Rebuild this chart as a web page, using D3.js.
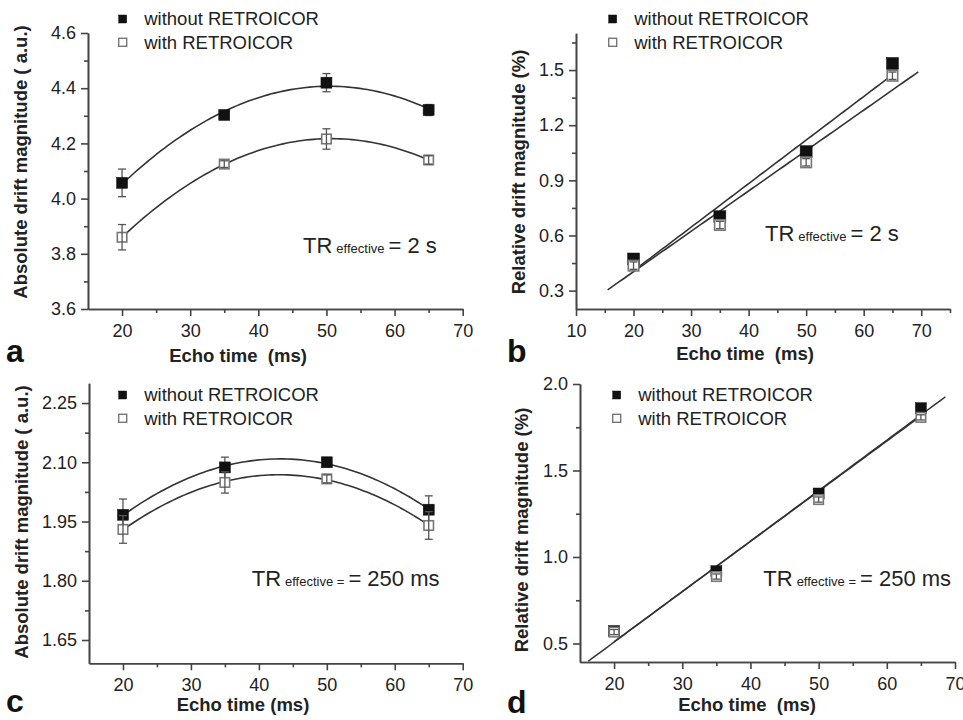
<!DOCTYPE html>
<html>
<head>
<meta charset="utf-8">
<script src="https://cdn.jsdelivr.net/npm/d3@7/dist/d3.min.js"></script>
<style>
  html, body { margin: 0; padding: 0; background: #fff; }
  svg { display: block; font-family: "Liberation Sans", Arial, Helvetica, sans-serif; }
</style>
</head>
<body>
<svg id="chart" width="963" height="720"></svg>
<script>
// ---------------- DATA ----------------
const echoTimes = [20, 35, 50, 65];
const seriesNames = ["without RETROICOR", "with RETROICOR"];

// a: absolute drift, TR effective = 2 s
const absTR2Without = [4.057, 4.303, 4.420, 4.321];
const absTR2WithoutErr = [0.050, 0.012, 0.033, 0.020];
const absTR2With = [3.860, 4.125, 4.216, 4.140];
const absTR2WithErr = [0.046, 0.012, 0.037, 0.015];

// b: relative drift, TR effective = 2 s
const relTR2Without = [0.472, 0.702, 1.056, 1.536];
const relTR2WithoutErr = [0.02, 0.02, 0.02, 0.02];
const relTR2With = [0.436, 0.657, 0.998, 1.469];
const relTR2WithErr = [0.02, 0.02, 0.02, 0.02];
// linear fit lines: [intercept, slope]
const relTR2WithoutFit = [-0.066, 0.0237];
const relTR2WithFit = [-0.0365, 0.02197];

// c: absolute drift, TR effective = 250 ms
const absTR250Without = [1.967, 2.087, 2.100, 1.980];
const absTR250WithoutErr = [0.040, 0.026, 0.010, 0.035];
const absTR250With = [1.930, 2.049, 2.058, 1.940];
const absTR250WithErr = [0.035, 0.027, 0.010, 0.035];

// d: relative drift, TR effective = 250 ms
const relTR250Without = [0.572, 0.918, 1.367, 1.860];
const relTR250WithoutErr = [0.015, 0.015, 0.015, 0.015];
const relTR250With = [0.566, 0.887, 1.332, 1.807];
const relTR250WithErr = [0.015, 0.015, 0.015, 0.015];
// fit lines (nearly coincident in the figure): [intercept, slope]
const relTR250WithoutFit = [-0.0755, 0.02918];
const relTR250WithFit = [-0.0700, 0.02900];

// axis ticks
const xTicksA = [20, 30, 40, 50, 60, 70];
const xMinorA = [25, 35, 45, 55, 65];
const yTicksA = [3.6, 3.8, 4.0, 4.2, 4.4, 4.6];
const yMinorA = [3.7, 3.9, 4.1, 4.3, 4.5];
const xTicksB = [10, 20, 30, 40, 50, 60, 70];
const xMinorB = [15, 25, 35, 45, 55, 65, 75];
const yTicksB = [0.3, 0.6, 0.9, 1.2, 1.5];
const yMinorB = [0.45, 0.75, 1.05, 1.35, 1.65];
const yTicksC = [1.65, 1.80, 1.95, 2.10, 2.25];
const yMinorC = [1.725, 1.875, 2.025, 2.175];
const yTicksD = [0.5, 1.0, 1.5, 2.0];
const yMinorD = [0.75, 1.25, 1.75];

// ---------------- HELPERS ----------------
function polyfit(xs, ys, deg) {
  const n = deg + 1;
  const A = [];
  for (let i = 0; i < n; i++) {
    const row = [];
    for (let j = 0; j < n; j++) row.push(d3.sum(xs, x => Math.pow(x, i + j)));
    row.push(d3.sum(xs, (x, k) => ys[k] * Math.pow(x, i)));
    A.push(row);
  }
  for (let c = 0; c < n; c++) {
    let p = c;
    for (let r = c + 1; r < n; r++) if (Math.abs(A[r][c]) > Math.abs(A[p][c])) p = r;
    [A[c], A[p]] = [A[p], A[c]];
    for (let r = 0; r < n; r++) {
      if (r === c) continue;
      const f = A[r][c] / A[c][c];
      for (let k = c; k <= n; k++) A[r][k] -= f * A[c][k];
    }
  }
  return A.map((row, i) => row[n] / row[i]);
}
const polyEval = coef => x => coef.reduce((s, a, i) => s + a * Math.pow(x, i), 0);

const svg = d3.select("#chart");
const AX = "#444";
const TXT = "#222";

function panel(cfg) {
  const g = svg.append("g");
  const x = d3.scaleLinear().domain(cfg.xDomain).range(cfg.xRange);
  const y = d3.scaleLinear().domain(cfg.yDomain).range(cfg.yRange);

  // fits
  cfg.series.forEach(s => {
    if (!s.fitRange) return;
    const f = polyEval(s.fit || polyfit(echoTimes, s.values, cfg.deg));
    const xs = d3.range(s.fitRange[0], s.fitRange[1] + 1e-9, (s.fitRange[1] - s.fitRange[0]) / 80);
    g.append("path")
      .attr("d", d3.line().x(v => x(v)).y(v => y(f(v)))(xs))
      .attr("fill", "none").attr("stroke", "#333").attr("stroke-width", s.fitWidth || 1.6);
  });

  function errBars(s) {
    const eg = g.append("g").attr("stroke", "#555").attr("stroke-width", 1.3);
    echoTimes.forEach((t, i) => {
      const cx = x(t), y1 = y(s.values[i] + s.err[i]), y2 = y(s.values[i] - s.err[i]);
      eg.append("line").attr("x1", cx).attr("x2", cx).attr("y1", y1).attr("y2", y2);
      eg.append("line").attr("x1", cx - 4).attr("x2", cx + 4).attr("y1", y1).attr("y2", y1);
      eg.append("line").attr("x1", cx - 4).attr("x2", cx + 4).attr("y1", y2).attr("y2", y2);
    });
  }
  function markers(s, si) {
    const sz = si === 0 ? cfg.msize : cfg.msize - 1.5;
    g.append("g").selectAll("rect").data(echoTimes).join("rect")
      .attr("x", (t) => x(t) - sz / 2)
      .attr("y", (t, i) => y(s.values[i]) - sz / 2)
      .attr("width", sz).attr("height", sz)
      .attr("fill", si === 0 ? "#111" : "#fff")
      .attr("stroke", si === 0 ? "#111" : "#777")
      .attr("stroke-width", si === 0 ? 0.5 : 1.6);
  }
  // filled series: error bars under marker; open series: white marker on top, error bar through it
  errBars(cfg.series[0]);
  markers(cfg.series[0], 0);
  markers(cfg.series[1], 1);
  errBars(cfg.series[1]);

  // axes
  const y0 = cfg.yRange[0], x0 = cfg.xRange[0];
  const xa = g.append("g").attr("transform", `translate(0,${y0})`)
    .call(d3.axisBottom(x).tickValues(cfg.xTicks).tickSize(7).tickSizeOuter(0).tickPadding(8).tickFormat(d3.format("d")));
  const xm = g.append("g").attr("transform", `translate(0,${y0})`)
    .call(d3.axisBottom(x).tickValues(cfg.xMinor).tickSize(4).tickSizeOuter(0).tickFormat(""));
  const ya = g.append("g").attr("transform", `translate(${x0},0)`)
    .call(d3.axisLeft(y).tickValues(cfg.yTicks).tickSize(7).tickSizeOuter(0).tickPadding(5).tickFormat(cfg.yFormat));
  const ym = g.append("g").attr("transform", `translate(${x0},0)`)
    .call(d3.axisLeft(y).tickValues(cfg.yMinor).tickSize(4).tickSizeOuter(0).tickFormat(""));
  [xa, xm, ya, ym].forEach(a => {
    a.selectAll("path, line").attr("stroke", AX).attr("stroke-width", 1.6);
    a.selectAll("text").attr("fill", TXT).style("font-size", "18px");
  });

  // axis titles
  g.append("text").attr("x", cfg.xTitle[0]).attr("y", cfg.xTitle[1])
    .attr("text-anchor", "middle").attr("fill", TXT)
    .style("font-size", "18.5px").style("font-weight", "bold")
    .style("white-space", "pre").text(cfg.xTitleText);
  g.append("text").attr("transform", `translate(${cfg.yTitle[0]},${cfg.yTitle[1]}) rotate(-90)`)
    .attr("text-anchor", "middle").attr("fill", TXT)
    .style("font-size", "18.5px").style("font-weight", "bold")
    .style("white-space", "pre").text(cfg.yTitleText);

  // panel letter
  g.append("text").attr("x", cfg.letter[0]).attr("y", cfg.letter[1])
    .attr("fill", "#111").style("font-size", "32px").style("font-weight", "bold").text(cfg.letterText);

  // legend
  cfg.series.forEach((s, si) => {
    const [lx, ly] = cfg.legend;
    const cy = ly + si * 23.3;
    g.append("rect").attr("x", lx - 4).attr("y", cy - 4).attr("width", 8).attr("height", 8)
      .attr("fill", si === 0 ? "#111" : "none").attr("stroke", si === 0 ? "#111" : "#777")
      .attr("stroke-width", si === 0 ? 0.5 : 1.4);
    g.append("text").attr("x", lx + 21.5).attr("y", cy + 6.3).attr("fill", TXT)
      .style("font-size", "18.5px").text(seriesNames[si]);
  });

  // TR annotation
  const t = g.append("text").attr("x", cfg.tr[0]).attr("y", cfg.tr[1]).attr("fill", TXT).style("white-space", "pre");
  t.append("tspan").style("font-size", "22px").text("TR");
  t.append("tspan").attr("dx", 4).style("font-size", "13px").text(cfg.trSub);
  t.append("tspan").attr("dx", 4).style("font-size", "22px").text(cfg.trMain);
}

panel({
  xDomain: [15, 70], xRange: [88, 462.7], yDomain: [3.6, 4.6], yRange: [309, 33],
  deg: 2, msize: 11,
  xTicks: xTicksA, xMinor: xMinorA, yTicks: yTicksA, yMinor: yMinorA, yFormat: d3.format(".1f"),
  series: [
    { values: absTR2Without, err: absTR2WithoutErr, fitRange: [20, 65] },
    { values: absTR2With, err: absTR2WithErr, fitRange: [20, 65] }
  ],
  xTitle: [238, 362], xTitleText: "Echo time  (ms)",
  yTitle: [27, 162], yTitleText: "Absolute drift magnitude ( a.u.)",
  letter: [6, 362], letterText: "a",
  legend: [122.7, 19],
  tr: [303, 253], trSub: "effective", trMain: "= 2 s"
});

panel({
  xDomain: [10, 75], xRange: [576, 950], yDomain: [0.2, 1.7], yRange: [309, 33.3],
  deg: 1, msize: 12,
  xTicks: xTicksB, xMinor: xMinorB, yTicks: yTicksB, yMinor: yMinorB, yFormat: d3.format(".1f"),
  series: [
    { values: relTR2Without, err: relTR2WithoutErr, fit: relTR2WithoutFit, fitRange: [20, 65] },
    { values: relTR2With, err: relTR2WithErr, fit: relTR2WithFit, fitRange: [15.5, 69.5] }
  ],
  xTitle: [745, 360], xTitleText: "Echo time  (ms)",
  yTitle: [525, 172], yTitleText: "Relative drift magnitude (%)",
  letter: [507, 362], letterText: "b",
  legend: [612.7, 19],
  tr: [765, 240.7], trSub: "effective", trMain: "= 2 s"
});

panel({
  xDomain: [15, 70], xRange: [89, 462.7], yDomain: [1.591, 2.30], yRange: [663.3, 383.3],
  deg: 2, msize: 11,
  xTicks: xTicksA, xMinor: xMinorA, yTicks: yTicksC, yMinor: yMinorC, yFormat: d3.format(".2f"),
  series: [
    { values: absTR250Without, err: absTR250WithoutErr, fitRange: [20, 65] },
    { values: absTR250With, err: absTR250WithErr, fitRange: [20, 65] }
  ],
  xTitle: [243, 711], xTitleText: "Echo time (ms)",
  yTitle: [28, 522], yTitleText: "Absolute drift magnitude ( a.u.)",
  letter: [6, 712], letterText: "c",
  legend: [122.7, 395],
  tr: [251.7, 586], trSub: "effective =", trMain: "= 250 ms"
});

panel({
  xDomain: [15, 70], xRange: [580, 955], yDomain: [0.393, 2.0], yRange: [662, 384],
  deg: 1, msize: 11,
  xTicks: xTicksA, xMinor: xMinorA, yTicks: yTicksD, yMinor: yMinorD, yFormat: d3.format(".1f"),
  series: [
    { values: relTR250Without, err: relTR250WithoutErr, fit: relTR250WithoutFit, fitRange: [16.2, 68.6], fitWidth: 1.5 },
    { values: relTR250With, err: relTR250WithErr, fit: relTR250WithFit, fitRange: [20, 65], fitWidth: 1.5 }
  ],
  xTitle: [747, 711], xTitleText: "Echo time  (ms)",
  yTitle: [528, 530], yTitleText: "Relative drift magnitude (%)",
  letter: [507, 713], letterText: "d",
  legend: [616.7, 395],
  tr: [763.3, 586], trSub: "effective =", trMain: "= 250 ms"
});
</script>
</body>
</html>
